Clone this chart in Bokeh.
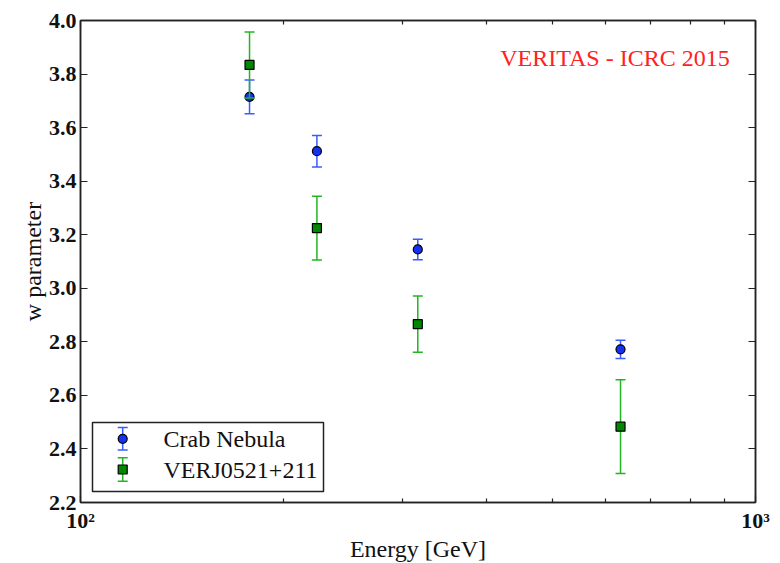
import numpy as np
from bokeh.plotting import figure
from bokeh.models import (LogAxis, LinearAxis, FixedTicker, CustomJSTickFormatter,
                          NumeralTickFormatter, Range1d, Label, BoxAnnotation, ColumnDataSource)
from bokeh.embed import file_html
from bokeh.resources import INLINE

# ---- data ----
energy = [178, 224, 316, 631]                 # GeV
crab_w = [3.715, 3.512, 3.145, 2.772]
crab_err = [0.063, 0.059, 0.038, 0.034]
verj_w = [3.834, 3.225, 2.866, 2.483]
verj_err = [0.123, 0.119, 0.105, 0.175]
series_names = ["Crab Nebula", "VERJ0521+211"]
y_ticks = [2.2, 2.4, 2.6, 2.8, 3.0, 3.2, 3.4, 3.6, 3.8, 4.0]
x_major_ticks = [100, 1000]
x_minor_ticks = [200, 300, 400, 500, 600, 700, 800, 900]
x_tick_labels = {"100": "10²", "1000": "10³"}
annotation_text = "VERITAS - ICRC 2015"

BLUE_ERR = "#3a5cff"
BLUE = "#1530f0"
GREEN_ERR = "#22b422"
GREEN = "#008800"
AXIS = "#222222"
FONT = "Liberation Serif"

src = ColumnDataSource(dict(
    e=energy,
    crab=crab_w,
    crab_lo=list(np.array(crab_w) - np.array(crab_err)),
    crab_hi=list(np.array(crab_w) + np.array(crab_err)),
    verj=verj_w,
    verj_lo=list(np.array(verj_w) - np.array(verj_err)),
    verj_hi=list(np.array(verj_w) + np.array(verj_err)),
))

p = figure(x_axis_type="log", x_range=Range1d(100, 1000), y_range=Range1d(2.2, 4.0),
           frame_width=675, frame_height=482,
           min_border_left=80, min_border_top=20, min_border_right=25, min_border_bottom=61,
           output_backend="svg", toolbar_location=None,
           x_axis_label="Energy [GeV]", y_axis_label="w parameter")
p.grid.visible = False
p.outline_line_color = AXIS
p.outline_line_width = 1.5
p.background_fill_color = "white"
p.border_fill_color = "white"

xt = FixedTicker(ticks=x_major_ticks, minor_ticks=x_minor_ticks)
yt = FixedTicker(ticks=y_ticks, minor_ticks=[])
xfmt = CustomJSTickFormatter(args=dict(lab=x_tick_labels),
                             code="const k = String(Math.round(tick)); return (k in lab) ? lab[k] : '';")
blank = CustomJSTickFormatter(code="return '';")


def style_axis(ax, labels=True):
    ax.axis_line_color = AXIS
    ax.axis_line_width = 1.5
    ax.major_tick_line_color = AXIS
    ax.minor_tick_line_color = AXIS
    ax.major_tick_line_width = 1.2
    ax.minor_tick_line_width = 1.2
    ax.major_tick_in = 7
    ax.major_tick_out = 0
    ax.minor_tick_in = 4
    ax.minor_tick_out = 0
    ax.major_label_text_font = FONT
    ax.major_label_text_font_style = "bold"
    ax.major_label_text_font_size = "22px"
    ax.major_label_text_color = "#111111"
    ax.axis_label_text_font = FONT
    ax.axis_label_text_font_style = "normal"
    ax.axis_label_text_font_size = "24px"
    ax.axis_label_text_color = "#111111"
    if not labels:
        ax.major_label_standoff = 0


xa = p.xaxis[0]
xa.ticker = xt
xa.formatter = xfmt
style_axis(xa)
xa.major_label_standoff = 5
xa.axis_label_standoff = 0

ya = p.yaxis[0]
ya.ticker = yt
ya.formatter = NumeralTickFormatter(format="0.0")
style_axis(ya)
ya.major_label_standoff = 4
ya.axis_label_standoff = 0

top = LogAxis(ticker=xt, formatter=blank)
style_axis(top, labels=False)
p.add_layout(top, "above")
right = LinearAxis(ticker=yt, formatter=blank)
style_axis(right, labels=False)
p.add_layout(right, "right")

# ---- Crab Nebula ----
p.segment(x0="e", y0="crab_lo", x1="e", y1="crab_hi", source=src, line_color=BLUE_ERR, line_width=1.5)
p.scatter("e", "crab_lo", source=src, marker="dash", size=10, line_color=BLUE_ERR, line_width=1.5)
p.scatter("e", "crab_hi", source=src, marker="dash", size=10, line_color=BLUE_ERR, line_width=1.5)
p.scatter("e", "crab", source=src, marker="circle", size=9, fill_color=BLUE, line_color="black", line_width=1.2)

# ---- VERJ0521+211 ----
p.segment(x0="e", y0="verj_lo", x1="e", y1="verj_hi", source=src, line_color=GREEN_ERR, line_width=1.5)
p.scatter("e", "verj_lo", source=src, marker="dash", size=10, line_color=GREEN_ERR, line_width=1.5)
p.scatter("e", "verj_hi", source=src, marker="dash", size=10, line_color=GREEN_ERR, line_width=1.5)
p.scatter("e", "verj", source=src, marker="square", size=9, fill_color=GREEN, line_color="black", line_width=1.2)


# ---- legend (screen units, relative to the frame) ----
def box(l, r, b, t, fill=None, line=None, lw=1.0, radius=0):
    kw = dict(left=l, right=r, bottom=b, top=t,
              left_units="screen", right_units="screen",
              bottom_units="screen", top_units="screen",
              fill_color=fill if fill else "white", fill_alpha=1.0 if fill else 0.0,
              line_color=line if line else "white", line_alpha=1.0 if line else 0.0,
              line_width=lw)
    if radius:
        kw["border_radius"] = int(radius)
    p.add_layout(BoxAnnotation(**kw))


box(12, 243, 11, 80, fill="white", line=AXIS, lw=1.5)

entries = [(63.7, 11.3, BLUE_ERR, BLUE, 5), (33.0, 11.7, GREEN_ERR, GREEN, 0)]
bx = 42.2
for (cy, half, ecol, fcol, rad), name in zip(entries, series_names):
    box(bx - 0.75, bx + 0.75, cy - half, cy + half, fill=ecol)
    box(bx - 5, bx + 5, cy + half - 0.75, cy + half + 0.75, fill=ecol)
    box(bx - 5, bx + 5, cy - half - 0.75, cy - half + 0.75, fill=ecol)
    box(bx - 4.5, bx + 4.5, cy - 4.5, cy + 4.5, fill=fcol, line="black", lw=1.2, radius=rad)
    p.add_layout(Label(x=83, y=cy, x_units="screen", y_units="screen", text=name,
                       text_font=FONT, text_font_size="24px", text_color="#111111",
                       text_baseline="middle", text_align="left"))

# ---- annotation text ----
p.add_layout(Label(x=534.5, y=444.3, x_units="screen", y_units="screen", text=annotation_text,
                   text_font=FONT, text_font_size="24px", text_color="#ff2222",
                   text_baseline="middle", text_align="center"))

open("out.html", "w").write(file_html(p, INLINE))
